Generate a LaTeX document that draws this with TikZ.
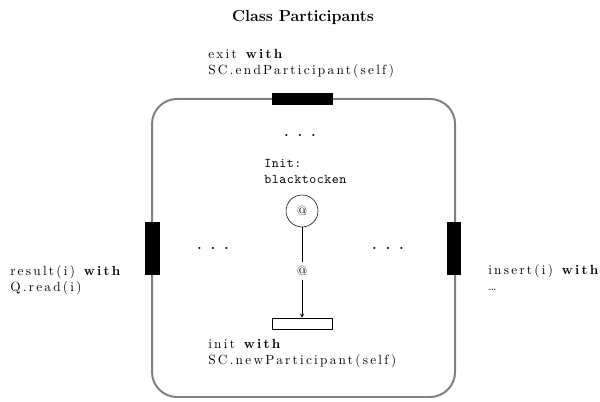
\documentclass[tikz,border=0pt]{standalone}
\usepackage{amssymb}
\usepackage{fontspec}
\newfontfamily\spacedrm{Latin Modern Roman}[LetterSpace=17]
\newfontfamily\spacedtt{Latin Modern Mono}[LetterSpace=4]
\usepackage{tikz}
\usetikzlibrary{shapes,arrows}
\tikzstyle{area}=[draw=gray, line width=1.5pt, rounded corners=0.66cm]
\tikzstyle{port}=[draw, fill=black]
\tikzstyle{txt}=[anchor=west, align=left, inner sep=0pt, font=\spacedrm]
\tikzstyle{dots}=[font=\bfseries]
\tikzstyle{place}=[draw, circle, minimum size=0.846cm, inner sep=0pt]
\tikzstyle{trans}=[draw, rectangle, minimum width=1.588cm, minimum height=0.291cm, inner sep=0pt]
\newcommand{\threedots}{.\hspace{7pt}.\hspace{7pt}.}

\begin{document}
\begin{tikzpicture}
 	\useasboundingbox (0.0cm,0.0cm) rectangle (15.875cm,10.636cm);
 	\node (title) at (8.017cm,10.160cm) {\large\bfseries Class Participants};
 	\path[area] (4.022cm,0.132cm) rectangle (12.039cm,8.017cm);
 	\path[port] (7.197cm,7.885cm) rectangle (8.785cm,8.176cm);
 	\path[port] (3.837cm,3.387cm) rectangle (4.207cm,4.763cm);
 	\path[port] (11.828cm,3.387cm) rectangle (12.171cm,4.763cm);
 	\node[dots] (dtop) at (7.938cm,7.050cm) {\threedots};
 	\node[dots] (dleft) at (5.636cm,4.060cm) {\threedots};
 	\node[dots] (dright) at (10.266cm,4.060cm) {\threedots};
 	\node[txt, font=\spacedtt] (initlbl) at (6.985cm,6.099cm) {Init:\\blacktocken};
 	\node[place] (token) at (7.991cm,5.054cm) {@};
 	\node (at) at (7.991cm,3.466cm) {@};
 	\node[trans] (initbox) at (7.991cm,2.077cm) {};
 	\draw (token) -- (at);
 	\draw[-stealth] (at) -- (initbox);
 	\node[txt] (exit) at (5.504cm,8.943cm) {exit \textbf{with}\\SC.endParticipant(self)};
 	\node[txt] (init) at (5.504cm,1.283cm) {init \textbf{with}\\SC.newParticipant(self)};
 	\node[txt] (result) at (0.265cm,3.228cm) {result(i) \textbf{with}\\Q.read(i)};
 	\node[txt] (insert) at (12.912cm,3.294cm) {insert(i) \textbf{with}\\{\small\ldots}};
\end{tikzpicture}
\end{document}
